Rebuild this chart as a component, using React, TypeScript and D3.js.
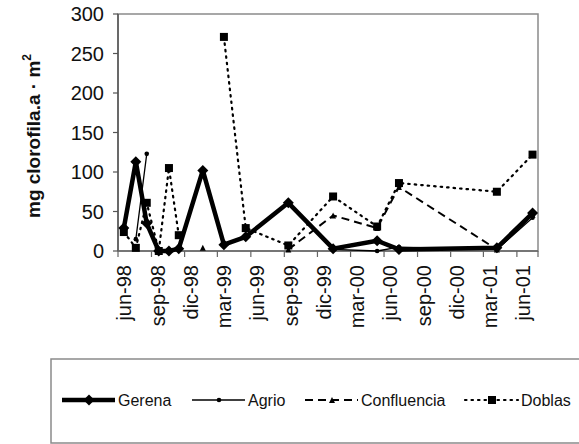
import React from 'react';
import * as d3 from 'd3';

const fechas = [
  '1998-06-17', '1998-07-20', '1998-08-19', '1998-09-21', '1998-10-19',
  '1998-11-15', '1999-01-20', '1999-03-19', '1999-05-18', '1999-09-12',
  '2000-01-13', '2000-05-13', '2000-07-12', '2001-04-07', '2001-07-14'
];

const gerena = [29, 113, 35, 0, 0, 3, 102, 8, 18, 61, 3, 13, 2, 4, 48];
const agrio = [null, 15, 123, null, null, 3, null, null, null, null, 2, 0, 5, 2, 42];
const confluencia = [null, null, null, null, null, null, 4, null, null, 2, 45, 29, 81, 2, 46];
const doblas = [24, 4, 61, 0, 105, 20, null, 271, 29, 7, 69, 31, 86, 75, 122];

const meses = ['ene', 'feb', 'mar', 'abr', 'may', 'jun', 'jul', 'ago', 'sep', 'oct', 'nov', 'dic'];
const yTicks = [0, 50, 100, 150, 200, 250, 300];

const parse = d3.timeParse('%Y-%m-%d');
const dias = fechas.map(f => parse(f));

const width = 579;
const height = 444;

const x = d3.scaleTime()
  .domain([new Date(1998, 5, 1), new Date(2001, 6, 29)])
  .range([118, 538]);

const y = d3.scaleLinear()
  .domain([0, 300])
  .range([251, 14]);

const xTicks = d3.timeMonth.range(new Date(1998, 5, 1), new Date(2001, 6, 2), 3);
const fmt = (d) => meses[d.getMonth()] + '-' + String(d.getFullYear()).slice(2);

const series = [
  { name: 'Gerena', values: gerena, width: 4.5, dash: null, marker: 'diamond' },
  { name: 'Agrio', values: agrio, width: 1.3, dash: null, marker: 'dot' },
  { name: 'Confluencia', values: confluencia, width: 2, dash: '8,5', marker: 'triangle' },
  { name: 'Doblas', values: doblas, width: 2.2, dash: '1.5,5', marker: 'square' }
];

function Marker({ type, cx, cy }) {
  if (type === 'diamond') {
    const s = 5.5;
    return <path d={`M${cx},${cy - s}L${cx + s},${cy}L${cx},${cy + s}L${cx - s},${cy}Z`} fill="#000" />;
  }
  if (type === 'dot') return <circle cx={cx} cy={cy} r={2.3} fill="#000" />;
  if (type === 'triangle') {
    const s = 3;
    return <path d={`M${cx},${cy - s}L${cx + s},${cy + s}L${cx - s},${cy + s}Z`} fill="#000" />;
  }
  return <rect x={cx - 4} y={cy - 4} width={8} height={8} fill="#000" />;
}

export default function App() {
  const legendX = [62, 192, 305, 465];
  return (
    <svg width={width} height={height} style={{ position: 'absolute', left: 0, top: 0, background: '#fff' }}
      fontFamily="Arial, 'Liberation Sans', sans-serif">
      <rect x={0} y={0} width={width} height={height} fill="#fff" />
      {/* plot frame */}
      <rect x={118} y={14} width={420} height={237} fill="none" stroke="#8a8a8a" strokeWidth={1.5} />
      <line x1={118} x2={118} y1={14} y2={251} stroke="#555" strokeWidth={1.5} />
      <line x1={118} x2={538} y1={251} y2={251} stroke="#666" strokeWidth={1.5} />

      {yTicks.map(t => (
        <g key={t}>
          <line x1={113} x2={118} y1={y(t)} y2={y(t)} stroke="#555" strokeWidth={1.2} />
          <text x={104} y={y(t)} dy="0.36em" textAnchor="end" fontSize={20} fill="#111">{t}</text>
        </g>
      ))}

      {xTicks.map((t, i) => (
        <g key={i}>
          <line x1={x(t)} x2={x(t)} y1={251} y2={257} stroke="#666" strokeWidth={1.2} />
          <text transform={`translate(${x(t) + 6},265) rotate(-90)`} dy="0.36em" textAnchor="end"
            fontSize={20} fill="#111">{fmt(t)}</text>
        </g>
      ))}
      {/* closing tick at right edge */}
      <line x1={538} x2={538} y1={251} y2={257} stroke="#666" strokeWidth={1.2} />

      <text transform="translate(33,136) rotate(-90)" dy="0.36em" textAnchor="middle" fontSize={19}
        fontWeight="bold" fill="#111">
        mg clorofila.a · m<tspan fontSize={12} dy="-0.7em">2</tspan>
      </text>

      {series.map(s => {
        const pts = dias.map((d, i) => ({ d, v: s.values[i] }));
        const line = d3.line()
          .defined(p => p.v != null)
          .x(p => x(p.d))
          .y(p => y(p.v));
        return (
          <g key={s.name}>
            <path d={line(pts)} fill="none" stroke="#000" strokeWidth={s.width}
              strokeDasharray={s.dash || undefined} strokeLinecap={s.marker === 'square' ? 'round' : 'butt'}
              strokeLinejoin="round" />
            {pts.filter(p => p.v != null).map((p, i) => (
              <Marker key={i} type={s.marker} cx={x(p.d)} cy={y(p.v)} />
            ))}
          </g>
        );
      })}

      {/* legend */}
      <rect x={51} y={359} width={540} height={84} fill="none" stroke="#8a8a8a" strokeWidth={1.5} />
      {series.map((s, i) => {
        const lx = legendX[i];
        return (
          <g key={s.name}>
            <line x1={lx} x2={lx + 53} y1={400} y2={400} stroke="#000" strokeWidth={s.width}
              strokeDasharray={s.dash || undefined} strokeLinecap={s.marker === 'square' ? 'round' : 'butt'} />
            <Marker type={s.marker} cx={lx + 27} cy={400} />
            <text x={lx + 56} y={400} dy="0.36em" fontSize={16} fill="#111">{s.name}</text>
          </g>
        );
      })}
    </svg>
  );
}
